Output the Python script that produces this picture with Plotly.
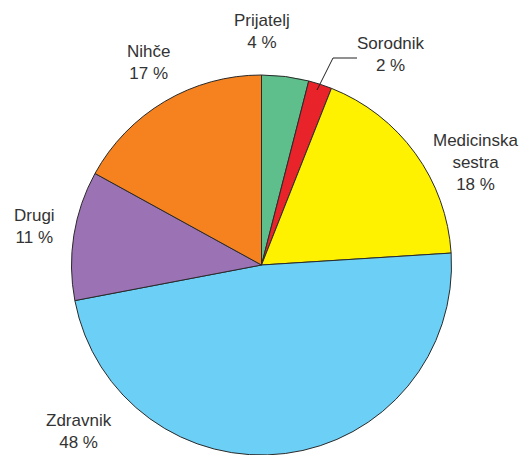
import plotly.graph_objects as go

# page body has an 8px margin, so the figure is drawn 8px in from the window edge
OFF = 8
W, H = 528 - OFF, 455 - OFF

labels = ["Prijatelj", "Sorodnik", "Medicinska sestra", "Zdravnik", "Drugi", "Nihče"]
values = [4, 2, 18, 48, 11, 17]
label_texts = ["Prijatelj<br>4 %", "Sorodnik<br>2 %", "Medicinska<br>sestra<br>18 %",
               "Zdravnik<br>48 %", "Drugi<br>11 %", "Nihče<br>17 %"]
colors = ["#5fbf8c", "#e8232a", "#fff200", "#6ccff6", "#9b72b4", "#f5821f"]

# label centre positions (window pixels)
label_pos = [(262, 31), (391, 54), (476, 162), (79, 431), (34, 226), (148, 62)]

# pie centre / radius (window pixels)
cx, cy, r = 261.5, 265, 190
fcx, fcy = cx - OFF, cy - OFF

fig = go.Figure(go.Pie(
    labels=labels, values=values, sort=False, direction="clockwise", rotation=0,
    marker=dict(colors=colors, line=dict(color="#2a2a2a", width=1)),
    textinfo="none", hoverinfo="label+percent", showlegend=False,
    domain=dict(x=[(fcx - r) / W, (fcx + r) / W],
                y=[max(0, 1 - (fcy + r) / H), min(1, 1 - (fcy - r) / H)]),
))

ann = []
for t, (px, py) in zip(label_texts, label_pos):
    ann.append(dict(x=(px - OFF) / W, y=1 - (py - OFF) / H, xref="paper", yref="paper", text=t,
                    showarrow=False, xanchor="center", yanchor="middle",
                    font=dict(family="Liberation Sans, Arial, sans-serif", size=17, color="#333333"),
                    align="center"))

# leader line for Sorodnik
pts = [(317, 90), (333, 58), (357, 58)]
path = "M " + " L ".join(f"{(x - OFF) / W} {1 - (y - OFF) / H}" for x, y in pts)
shapes = [dict(type="path", path=path, xref="paper", yref="paper",
               line=dict(color="#222222", width=1))]

fig.update_layout(width=W, height=H, margin=dict(l=0, r=0, t=0, b=0),
                  paper_bgcolor="white", plot_bgcolor="white",
                  annotations=ann, shapes=shapes)

fig.write_html("out.html")
